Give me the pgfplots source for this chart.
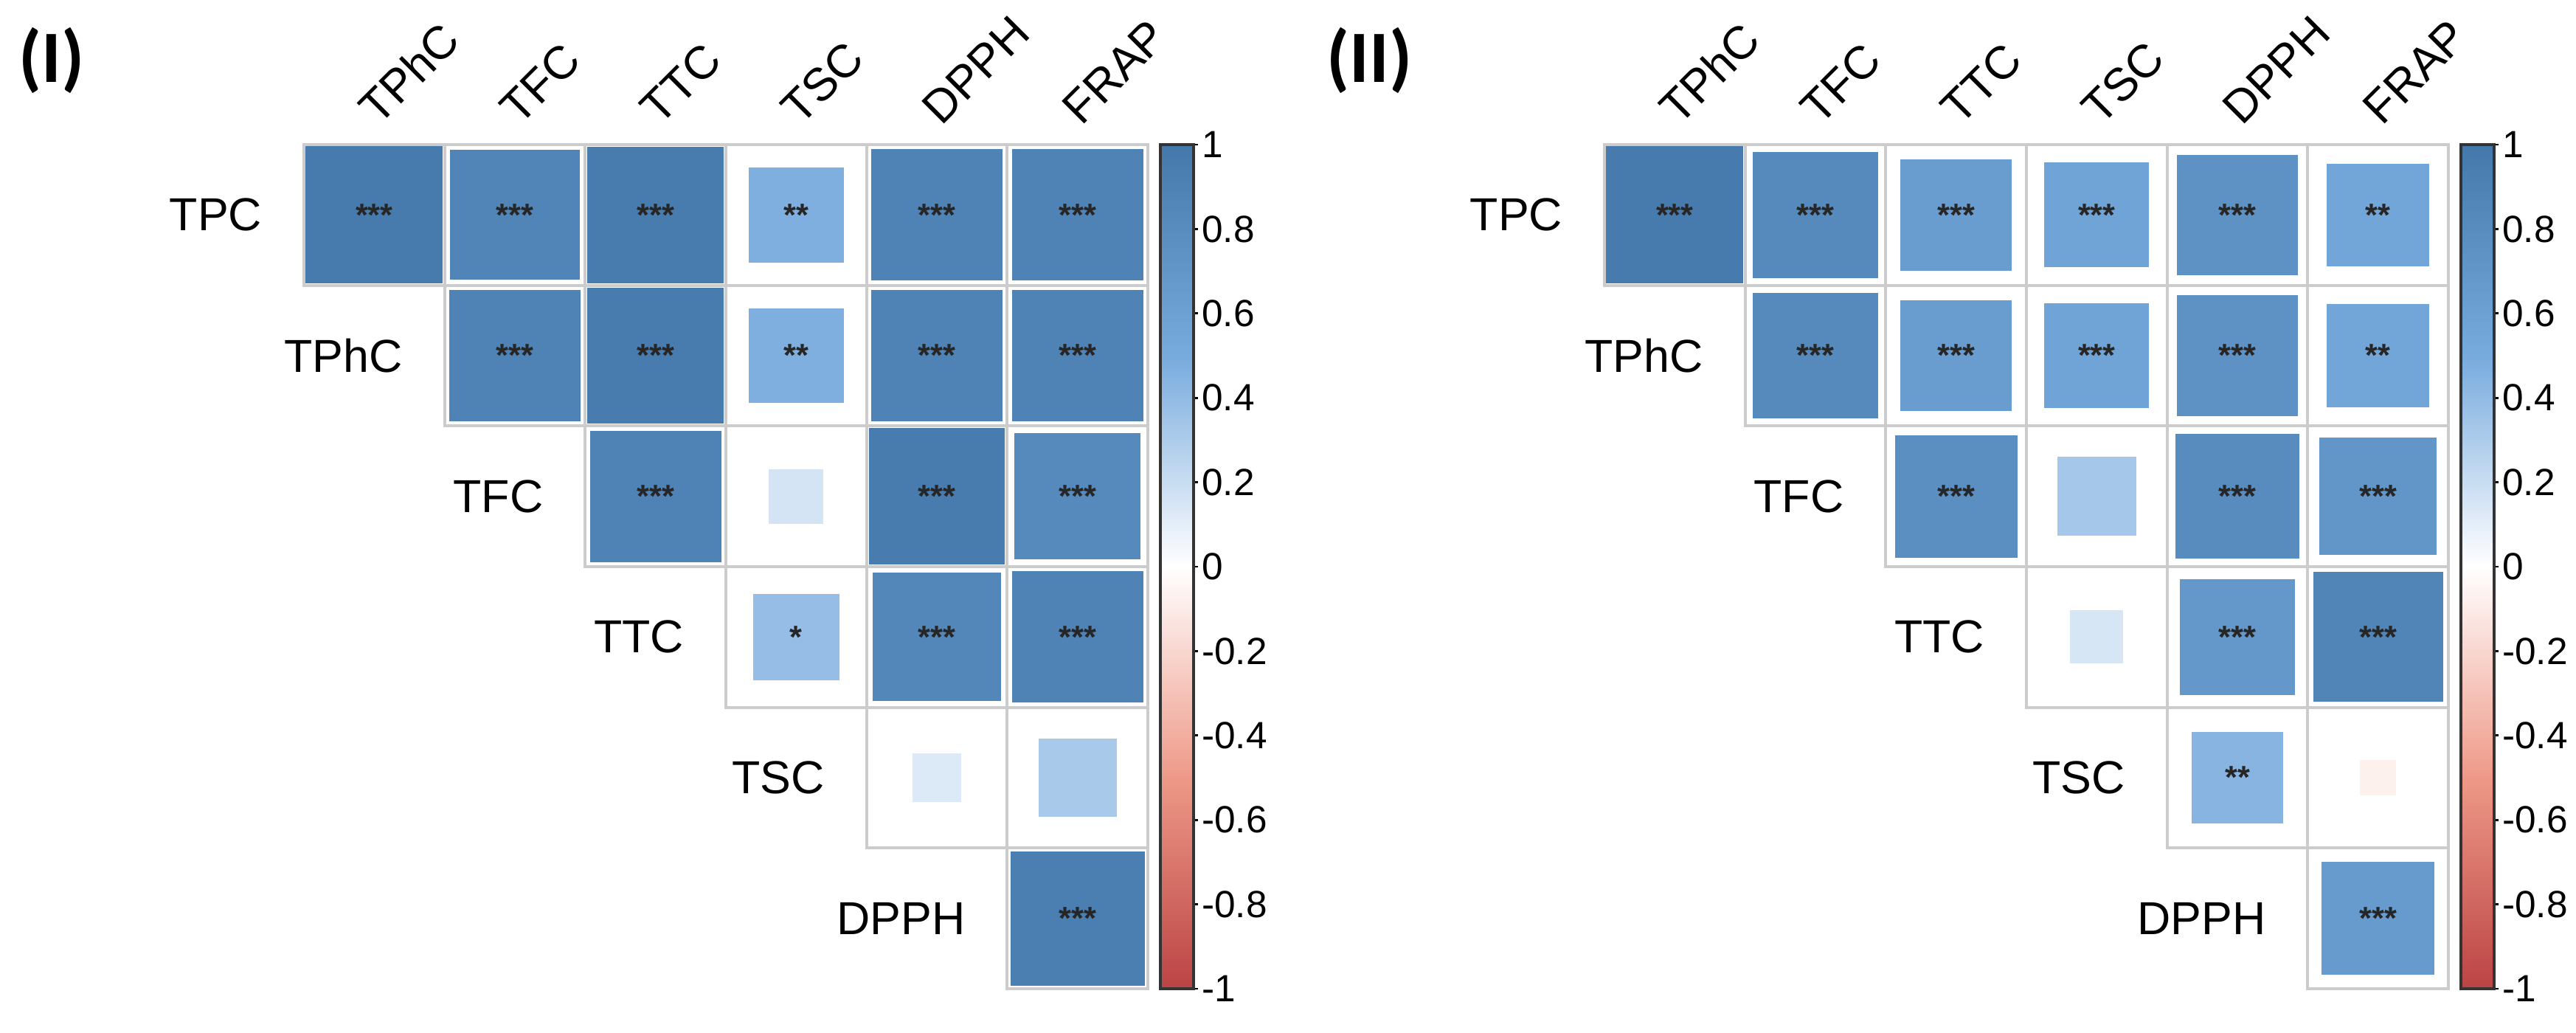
\documentclass[border=0pt]{standalone}
\usepackage{fontspec}
\setmainfont{Liberation Sans}
\newfontfamily\calibri{Carlito}
\usepackage{pgfplots}
\usepackage{pgfplotstable}
\pgfplotsset{compat=1.18}

% Panel I correlations: x = column + 0.5, y = 5.5 - row
\pgfplotstableread{
x y r
0.5 5.5 0.97
1.5 5.5 0.87
2.5 5.5 0.96
3.5 5.5 0.47
4.5 5.5 0.89
5.5 5.5 0.89
1.5 4.5 0.89
2.5 4.5 0.96
3.5 4.5 0.47
4.5 4.5 0.89
5.5 4.5 0.89
2.5 3.5 0.89
3.5 3.5 0.16
4.5 3.5 0.96
5.5 3.5 0.82
3.5 2.5 0.39
4.5 2.5 0.85
5.5 2.5 0.89
4.5 1.5 0.13
5.5 1.5 0.32
5.5 0.5 0.93
}\corrA

\pgfplotstableread{
x y s
0.5 5.5 ***
1.5 5.5 ***
2.5 5.5 ***
3.5 5.5 **
4.5 5.5 ***
5.5 5.5 ***
1.5 4.5 ***
2.5 4.5 ***
3.5 4.5 **
4.5 4.5 ***
5.5 4.5 ***
2.5 3.5 ***
4.5 3.5 ***
5.5 3.5 ***
3.5 2.5 *
4.5 2.5 ***
5.5 2.5 ***
5.5 0.5 ***
}\sigA

% Panel II correlations
\pgfplotstableread{
x y r
0.5 5.5 0.97
1.5 5.5 0.82
2.5 5.5 0.64
3.5 5.5 0.57
4.5 5.5 0.75
5.5 5.5 0.55
1.5 4.5 0.82
2.5 4.5 0.64
3.5 4.5 0.57
4.5 4.5 0.75
5.5 4.5 0.55
2.5 3.5 0.78
3.5 3.5 0.33
4.5 3.5 0.80
5.5 3.5 0.71
3.5 2.5 0.15
4.5 2.5 0.69
5.5 2.5 0.87
4.5 1.5 0.44
5.5 1.5 -0.07
5.5 0.5 0.66
}\corrB

\pgfplotstableread{
x y s
0.5 5.5 ***
1.5 5.5 ***
2.5 5.5 ***
3.5 5.5 ***
4.5 5.5 ***
5.5 5.5 **
1.5 4.5 ***
2.5 4.5 ***
3.5 4.5 ***
4.5 4.5 ***
5.5 4.5 **
2.5 3.5 ***
4.5 3.5 ***
5.5 3.5 ***
4.5 2.5 ***
5.5 2.5 ***
4.5 1.5 **
5.5 0.5 ***
}\sigB

\newcommand{\labfont}{\fontsize{9.4}{10}\selectfont}
\newcommand{\sigfont}{\fontsize{6.5}{7}\selectfont\bfseries}

\pgfplotsset{
  corrpanel/.style={
    x=28.6pt, y=28.6pt, xmin=0, xmax=6, ymin=0, ymax=6,
    hide axis, clip=false, anchor=south west,
    colormap={corr}{rgb255=(187,68,68) rgb255=(238,153,136) rgb255=(255,255,255) rgb255=(119,170,221) rgb255=(68,119,170)},
    point meta min=-1, point meta max=1,
    colorbar,
    colorbar style={
      at={(parent axis.north east)}, anchor=north west, xshift=-5.99pt,
      scale only axis,
      width=6.75pt, height=171.6pt,
      ytick={-1,-0.8,-0.6,-0.4,-0.2,0,0.2,0.4,0.6,0.8,1},
      ytick pos=right, yticklabel pos=right,
      tick align=outside, major tick length=0.9pt,
      tick style={black, line width=0.4pt},
      axis line style={black!80, line width=0.6pt},
      /pgf/number format/assume math mode=true,
      yticklabel style={font=\fontsize{7.7}{8}\selectfont, inner sep=0.6pt},
    },
  },
  corrsquares/.style={
    scatter, only marks, mark=square*, point meta=\thisrow{r},
    scatter/use mapped color={draw=white, fill=mapped color},
    mark options={line width=0.3pt},
    visualization depends on={sqrt(abs(\thisrow{r}))*14.3 \as \msize},
    scatter/@pre marker code/.append style={/tikz/mark size=\msize},
  },
  corrgrid/.style={
    only marks, mark=square, mark size=14.3pt,
    mark options={draw=black!20, line width=0.6pt},
  },
  corrsig/.style={
    draw=none, mark=none, nodes near coords, point meta=explicit symbolic,
    nodes near coords align={center},
    every node near coord/.append style={font=\sigfont, inner sep=0pt, text=black!85},
  },
}

\newcommand{\corrlabels}{%
  \node[anchor=east, font=\labfont, xshift=-5pt] at (axis cs:0,5.5) {TPC};
  \node[anchor=east, font=\labfont, xshift=-5pt] at (axis cs:1,4.5) {TPhC};
  \node[anchor=east, font=\labfont, xshift=-5pt] at (axis cs:2,3.5) {TFC};
  \node[anchor=east, font=\labfont, xshift=-5pt] at (axis cs:3,2.5) {TTC};
  \node[anchor=east, font=\labfont, xshift=-5pt] at (axis cs:4,1.5) {TSC};
  \node[anchor=east, font=\labfont, xshift=-5pt] at (axis cs:5,0.5) {DPPH};
  \node[anchor=base west, rotate=45, font=\labfont, xshift=-0.3pt, yshift=1.9pt] at (axis cs:0.5,6) {TPhC};
  \node[anchor=base west, rotate=45, font=\labfont, xshift=-0.3pt, yshift=1.9pt] at (axis cs:1.5,6) {TFC};
  \node[anchor=base west, rotate=45, font=\labfont, xshift=-0.3pt, yshift=1.9pt] at (axis cs:2.5,6) {TTC};
  \node[anchor=base west, rotate=45, font=\labfont, xshift=-0.3pt, yshift=1.9pt] at (axis cs:3.5,6) {TSC};
  \node[anchor=base west, rotate=45, font=\labfont, xshift=-0.3pt, yshift=1.9pt] at (axis cs:4.5,6) {DPPH};
  \node[anchor=base west, rotate=45, font=\labfont, xshift=-0.3pt, yshift=1.9pt] at (axis cs:5.5,6) {FRAP};
}

\begin{document}
\begin{tikzpicture}
\useasboundingbox (0,0) rectangle (523.8pt,209.85pt);

\begin{axis}[corrpanel, at={(61.8pt,8.85pt)}]
  \addplot[corrsquares] table[x=x, y=y] {\corrA};
  \addplot[corrgrid] table[x=x, y=y] {\corrA};
  \addplot[corrsig] table[x=x, y=y, meta=s] {\sigA};
  \corrlabels
\end{axis}

\begin{axis}[corrpanel, at={(326.25pt,8.85pt)}]
  \addplot[corrsquares] table[x=x, y=y] {\corrB};
  \addplot[corrgrid] table[x=x, y=y] {\corrB};
  \addplot[corrsig] table[x=x, y=y, meta=s] {\sigB};
  \corrlabels
\end{axis}

\node[anchor=west, inner sep=0pt, font=\fontsize{15}{17}\selectfont\calibri\bfseries] at (3.6pt,197.6pt) {(I)};
\node[anchor=west, inner sep=0pt, font=\fontsize{15}{17}\selectfont\calibri\bfseries] at (269.6pt,197.6pt) {(II)};
\end{tikzpicture}
\end{document}
